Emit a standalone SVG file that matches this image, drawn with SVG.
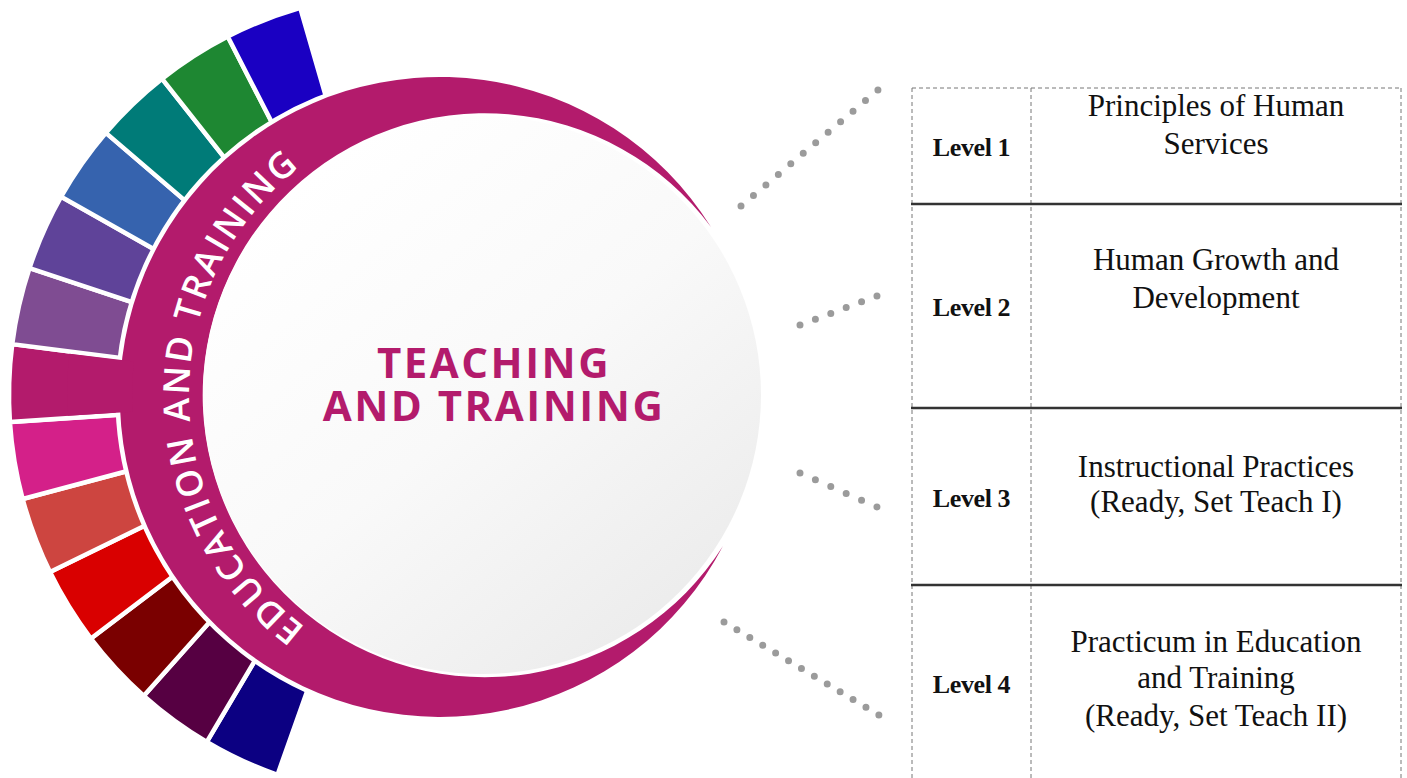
<svg xmlns="http://www.w3.org/2000/svg" xmlns:xlink="http://www.w3.org/1999/xlink" width="1407" height="778" viewBox="0 0 1407 778">
<style>
.seg{stroke:#fff;stroke-width:4.5;stroke-linejoin:miter}
.mag{fill:#B31B6C}
.ring{font-family:"Open Sans","Noto Sans",sans-serif;font-weight:600;font-size:36px;fill:#fff;letter-spacing:2.6px}
.ctr{font-family:"Open Sans","Noto Sans",sans-serif;font-weight:700;font-size:42px;fill:#B31B6C;text-anchor:middle;letter-spacing:2.5px}
.dots{stroke:#9b9b9b;stroke-width:7;stroke-linecap:round;fill:none}
.dash{stroke:#777;stroke-width:1;stroke-dasharray:4 3;fill:none}
.solid{stroke:#333;stroke-width:2.5}
.lvl{font-family:"Liberation Serif","Times New Roman",serif;font-weight:700;font-size:26px;fill:#111;text-anchor:middle;letter-spacing:-0.4px}
.desc{font-family:"Liberation Serif","Times New Roman",serif;font-size:31px;fill:#111;text-anchor:middle}
</style>
<defs>
<path id="sector" d="M403,0 A403,403 0 0 1 395.45,77.64 L274.76,53.94 A280,280 0 0 0 280,0 Z"/>
<linearGradient id="disk" x1="0.2" y1="0.1" x2="0.85" y2="0.9">
<stop offset="0" stop-color="#ffffff"/>
<stop offset="0.5" stop-color="#f9f9f9"/>
<stop offset="1" stop-color="#ececec"/>
</linearGradient>
<path id="ringPath" d="M334,646.1 A290,290 0 0 1 356.4,132.2"/>
</defs>
<rect width="1407" height="778" fill="#fff"/>
<g id="wheel">
<g transform="translate(412,395)">
<use xlink:href="#sector" class="seg" fill="#0C0082" transform="rotate(109.5)"/>
<use xlink:href="#sector" class="seg" fill="#560042" transform="rotate(120.608)"/>
<use xlink:href="#sector" class="seg" fill="#7A0000" transform="rotate(131.715)"/>
<use xlink:href="#sector" class="seg" fill="#D90000" transform="rotate(142.823)"/>
<use xlink:href="#sector" class="seg" fill="#CD4540" transform="rotate(153.931)"/>
<use xlink:href="#sector" class="seg" fill="#D42089" transform="rotate(165.038)"/>
<use xlink:href="#sector" class="seg" fill="#B31B6C" transform="rotate(176.146)"/>
<use xlink:href="#sector" class="seg" fill="#7F4C92" transform="rotate(187.254)"/>
<use xlink:href="#sector" class="seg" fill="#5F4399" transform="rotate(198.362)"/>
<use xlink:href="#sector" class="seg" fill="#3663AE" transform="rotate(209.469)"/>
<use xlink:href="#sector" class="seg" fill="#007B78" transform="rotate(220.577)"/>
<use xlink:href="#sector" class="seg" fill="#1E8732" transform="rotate(231.685)"/>
<use xlink:href="#sector" class="seg" fill="#1A00C2" transform="rotate(242.792)"/>
</g>
<path class="mag" d="M711,227 A320,320 0 1 0 723,546 A282,282 0 1 1 711,227 Z" stroke="#fff" stroke-width="9" paint-order="stroke"/>
<path class="mag" transform="translate(412,395) rotate(176.546)" d="M345,0 A345,345 0 0 1 339.43,61.74 L275.48,50.11 A280,280 0 0 0 280,0 Z"/>
<text class="ring"><textPath xlink:href="#ringPath" startOffset="34">EDUCATION AND TRAINING</textPath></text>
</g>
<g id="center-disk">
<circle cx="482" cy="395" r="279" fill="url(#disk)"/>
<text class="ctr" x="494" y="378">TEACHING</text>
<text class="ctr" x="494" y="421">AND TRAINING</text>
</g>
<g id="connectors">
<line class="dots" x1="741" y1="206" x2="878" y2="90" stroke-dasharray="0 16.31"/>
<line class="dots" x1="800" y1="325" x2="877" y2="296" stroke-dasharray="0 16.45"/>
<line class="dots" x1="800" y1="473" x2="877" y2="507" stroke-dasharray="0 16.82"/>
<line class="dots" x1="724" y1="622" x2="879" y2="715" stroke-dasharray="0 15.05"/>
</g>
<g id="table">
<line class="dash" x1="912" y1="88" x2="1401" y2="88"/>
<line class="dash" x1="912" y1="88" x2="912" y2="778"/>
<line class="dash" x1="1031" y1="88" x2="1031" y2="778"/>
<line class="dash" x1="1401" y1="88" x2="1401" y2="778"/>
<line class="solid" x1="911" y1="204" x2="1402" y2="204"/>
<line class="solid" x1="911" y1="408" x2="1402" y2="408"/>
<line class="solid" x1="911" y1="585" x2="1402" y2="585"/>
</g>
<g id="level-1">
<text class="lvl" x="971.5" y="156">Level 1</text>
<text class="desc" x="1216" y="116">Principles of Human</text>
<text class="desc" x="1216" y="154">Services</text>
</g>
<g id="level-2">
<text class="lvl" x="971.5" y="316">Level 2</text>
<text class="desc" x="1216" y="270">Human Growth and</text>
<text class="desc" x="1216" y="308">Development</text>
</g>
<g id="level-3">
<text class="lvl" x="971.5" y="507">Level 3</text>
<text class="desc" x="1216" y="477">Instructional Practices</text>
<text class="desc" x="1216" y="512">(Ready, Set Teach I)</text>
</g>
<g id="level-4">
<text class="lvl" x="971.5" y="693">Level 4</text>
<text class="desc" x="1216" y="652">Practicum in Education</text>
<text class="desc" x="1216" y="688">and Training</text>
<text class="desc" x="1216" y="726">(Ready, Set Teach II)</text>
</g>
</svg>
